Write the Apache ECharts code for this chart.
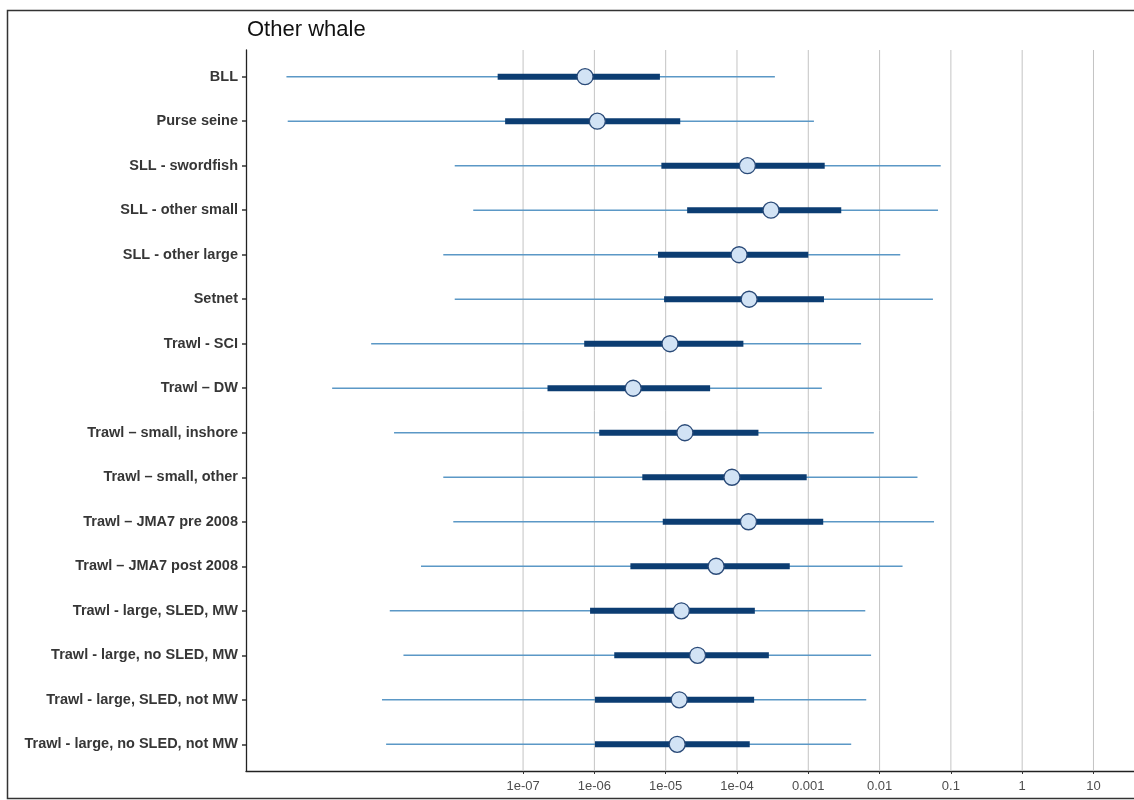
<!DOCTYPE html>
<html>
<head>
<meta charset="utf-8">
<script src="https://cdn.jsdelivr.net/npm/echarts@6/dist/echarts.min.js"></script>
<style>html,body{margin:0;padding:0;background:#fff}#c{width:1134px;height:800px}</style>
</head>
<body>
<div id="c"></div>
<script>
const categories = ["BLL","Purse seine","SLL - swordfish","SLL - other small","SLL - other large","Setnet","Trawl - SCI","Trawl \u2013 DW","Trawl \u2013 small, inshore","Trawl \u2013 small, other","Trawl \u2013 JMA7 pre 2008","Trawl \u2013 JMA7 post 2008","Trawl - large, SLED, MW","Trawl - large, no SLED, MW","Trawl - large, SLED, not MW","Trawl - large, no SLED, not MW"];
const lo95   = [4.8e-11, 5.0e-11, 1.1e-8, 2.0e-8, 7.6e-9, 1.1e-8, 7.4e-10, 2.1e-10, 1.55e-9, 7.6e-9, 1.05e-8, 3.7e-9, 1.35e-9, 2.1e-9, 1.05e-9, 1.2e-9];
const lo50   = [4.4e-8, 5.6e-8, 8.7e-6, 2.0e-5, 7.8e-6, 9.5e-6, 7.2e-7, 2.2e-7, 1.17e-6, 4.7e-6, 9.1e-6, 3.2e-6, 8.7e-7, 1.9e-6, 1.02e-6, 1.02e-6];
const median = [7.4e-7, 1.1e-6, 1.4e-4, 3.0e-4, 1.07e-4, 1.48e-4, 1.15e-5, 3.5e-6, 1.86e-5, 8.5e-5, 1.45e-4, 5.1e-5, 1.66e-5, 2.8e-5, 1.55e-5, 1.45e-5];
const hi50   = [8.3e-6, 1.6e-5, 1.7e-3, 2.9e-3, 1.0e-3, 1.66e-3, 1.23e-4, 4.2e-5, 2.0e-4, 9.5e-4, 1.62e-3, 5.5e-4, 1.78e-4, 2.8e-4, 1.74e-4, 1.51e-4];
const hi95   = [3.4e-4, 1.2e-3, 7.2e-2, 6.6e-2, 1.95e-2, 5.6e-2, 5.5e-3, 1.55e-3, 8.3e-3, 3.4e-2, 5.8e-2, 2.1e-2, 6.3e-3, 7.6e-3, 6.5e-3, 4.0e-3];
const tickValues = [1e-7, 1e-6, 1e-5, 1e-4, 1e-3, 1e-2, 1e-1, 1, 10];
const tickLabels = ["1e-07","1e-06","1e-05","1e-04","0.001","0.01","0.1","1","10"];
const xMin = 1.3e-11, xMax = 37;

const L = Math.log10;
const tickLogs = tickValues.map(v => Math.round(L(v)));
const idx = categories.map((_, i) => i);

function rangeRender(width, color) {
  return function (params, api) {
    const y = api.value(0);
    const a = api.coord([api.value(1), y]);
    const b = api.coord([api.value(2), y]);
    return {type: 'line', shape: {x1: a[0], y1: a[1], x2: b[0], y2: b[1]},
            style: {stroke: color, lineWidth: width, lineCap: 'butt'}};
  };
}

const font = 'Liberation Sans, Arial, sans-serif';
const chart = echarts.init(document.getElementById('c'), null, {renderer: 'canvas'});
chart.setOption({
  backgroundColor: '#ffffff',
  animation: false,
  title: {text: 'Other whale', left: 242, top: 14,
          textStyle: {fontFamily: font, fontSize: 22, fontWeight: 'normal', color: '#111'}},
  graphic: [{type: 'rect', shape: {x: 7.5, y: 10.5, width: 1140, height: 788},
             style: {fill: 'none', stroke: '#333', lineWidth: 1.5}, silent: true, z: 100}],
  grid: {left: 246, right: 0, top: 50, bottom: 29, containLabel: false},
  xAxis: {
    type: 'value', min: L(xMin), max: L(xMax),
    axisLine: {show: true, onZero: false, lineStyle: {color: '#222', width: 1.3}},
    axisTick: {show: true, length: 3, customValues: tickLogs, lineStyle: {color: '#333'}},
    axisLabel: {customValues: tickLogs, margin: 9, fontFamily: font, fontSize: 13, color: '#4d4d4d',
                formatter: v => { const k = tickLogs.indexOf(Math.round(v)); return k >= 0 ? tickLabels[k] : ''; }},
    splitLine: {show: false}
  },
  yAxis: {
    type: 'value', inverse: true, min: -0.6, max: categories.length - 0.4,
    axisLine: {show: true, onZero: false, lineStyle: {color: '#222', width: 1.3}},
    axisTick: {show: true, length: 4, customValues: idx, lineStyle: {color: '#333', width: 1.5}},
    axisLabel: {customValues: idx, margin: 8, fontFamily: font, fontSize: 14.5, fontWeight: 'bold', color: '#363636',
                formatter: v => categories[Math.round(v)] || ''},
    splitLine: {show: false}
  },
  series: [
    {
      type: 'custom', silent: true, z: 1,
      data: tickLogs.map(v => [v]),
      encode: {x: 0},
      renderItem: function (params, api) {
        const cs = params.coordSys;
        const p = api.coord([api.value(0), 0]);
        return {type: 'line', shape: {x1: p[0], y1: cs.y, x2: p[0], y2: cs.y + cs.height},
                style: {stroke: '#c4c4c4', lineWidth: 1}};
      }
    },
    {
      type: 'custom', silent: true, z: 2,
      data: idx.map(i => [i, L(lo95[i]), L(hi95[i])]),
      encode: {x: [1, 2], y: 0},
      renderItem: rangeRender(1.4, '#5b98c6')
    },
    {
      type: 'custom', silent: true, z: 3,
      data: idx.map(i => [i, L(lo50[i]), L(hi50[i])]),
      encode: {x: [1, 2], y: 0},
      renderItem: rangeRender(6, '#0c3d72')
    },
    {
      type: 'scatter', silent: true, z: 4,
      data: idx.map(i => [L(median[i]), i]),
      symbol: 'circle', symbolSize: 16,
      itemStyle: {color: '#d2e3f5', borderColor: '#2a4a78', borderWidth: 1.3, opacity: 1}
    }
  ]
});
</script>
</body>
</html>
